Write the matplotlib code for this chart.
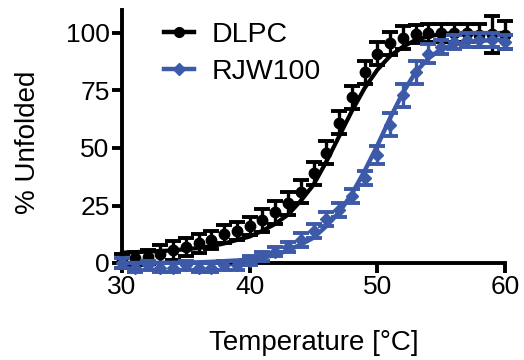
import numpy as np
import matplotlib
matplotlib.use("Agg")
import matplotlib.pyplot as plt

plt.rcParams['font.family'] = ['Liberation Sans', 'DejaVu Sans']

# temperatures (one reading per degree)
temp = list(range(30, 61))

# DLPC - mean % unfolded and error
dlpc = [1, 2, 2.5, 4, 5.5, 7, 8.5, 10, 12.5, 14, 16, 18.5, 22, 26, 31, 39,
        48, 61, 72, 83, 91, 95.5, 98, 99.5, 100, 100, 100, 100, 99, 99.5, 99]
dlpc_err = [3, 3, 3, 4, 4, 4, 4, 4, 4, 4, 4, 5, 5, 5, 5, 5,
            5, 5, 5, 5, 5, 5, 5, 4, 4, 4, 4, 4, 5, 8, 6]

# RJW100 - mean % unfolded and error
rjw = [0, -2, -1, -2, -2, -1, -2, -2, -1, -1, 1, 3, 5, 7, 10, 14,
       19, 23, 29, 37, 47, 60, 73, 83, 91, 94, 96, 97, 97, 97, 96]
rjw_err = [2, 2, 2, 2, 2, 2, 2, 2, 2, 2, 2, 2, 2, 2, 3, 3,
           3, 3, 3, 3, 4, 5, 5, 5, 4, 3, 3, 3, 3, 3, 3]

# fitted curves
dlpc_fit = [4.5, 4.7, 5, 5.2, 5.5, 6, 6.5, 7.3, 8.5, 10, 11.5, 14, 17, 21, 27, 34,
            44, 55, 66, 76, 84, 90, 94, 97, 98.5, 99.5, 100, 100, 100, 100, 100]
rjw_fit = [0, 0, 0, 0.1, 0.1, 0.2, 0.3, 0.5, 0.8, 1.1, 1.5, 2.3, 3.5, 5.5, 8, 11,
           16, 22, 30, 40, 51, 63, 74, 83, 89, 93, 95, 96, 96.5, 97, 97]

blue = '#3D5AA9'

fig = plt.figure(figsize=(5.24, 3.6), dpi=100)
ax = fig.add_axes([122/524, (360-274.5)/360, 383/524, 264.5/360])

ax.plot(temp, dlpc_fit, color='black', lw=3, zorder=2, clip_on=False)
ax.errorbar(temp, dlpc, yerr=dlpc_err, fmt='o', color='black', ms=7.5,
            elinewidth=2.4, capsize=5.5, capthick=2.8, zorder=3, clip_on=False)
ax.errorbar(temp, rjw, yerr=rjw_err, fmt='D', color=blue, ms=6.5,
            elinewidth=2.4, capsize=5.5, capthick=2.8, zorder=4, clip_on=False)
ax.plot(temp, rjw_fit, color=blue, lw=3.2, zorder=5, clip_on=False)

# legend handles
h1, = ax.plot([], [], color='black', lw=3.2, marker='o', ms=7)
h2, = ax.plot([], [], color=blue, lw=3.2, marker='D', ms=6.5)
ax.legend([h1, h2], ['DLPC', 'RJW100'], loc='upper left', frameon=False,
          bbox_to_anchor=(0.08, 0.997), fontsize=20.5, handlelength=1.07,
          handletextpad=0.6, labelspacing=0.38, borderaxespad=0)

ax.set_xlim(30, 60)
ax.set_ylim(-5, 110)
ax.set_xticks([30, 40, 50, 60])
ax.set_yticks([0, 25, 50, 75, 100])

for s in ['top', 'right']:
    ax.spines[s].set_visible(False)
ax.spines['bottom'].set_position(('data', 0))
ax.spines['left'].set_bounds(-1, 110)
ax.spines['bottom'].set_bounds(30, 60)
for s in ['left', 'bottom']:
    ax.spines[s].set_linewidth(2.8)
ax.tick_params(width=2.8, length=7, labelsize=19, pad=2, direction='out')

ax.set_xlabel('Temperature [°C]', fontsize=20, labelpad=22)
ax.set_ylabel('% Unfolded', fontsize=20, labelpad=18)

fig.savefig('out.png', dpi=100)
